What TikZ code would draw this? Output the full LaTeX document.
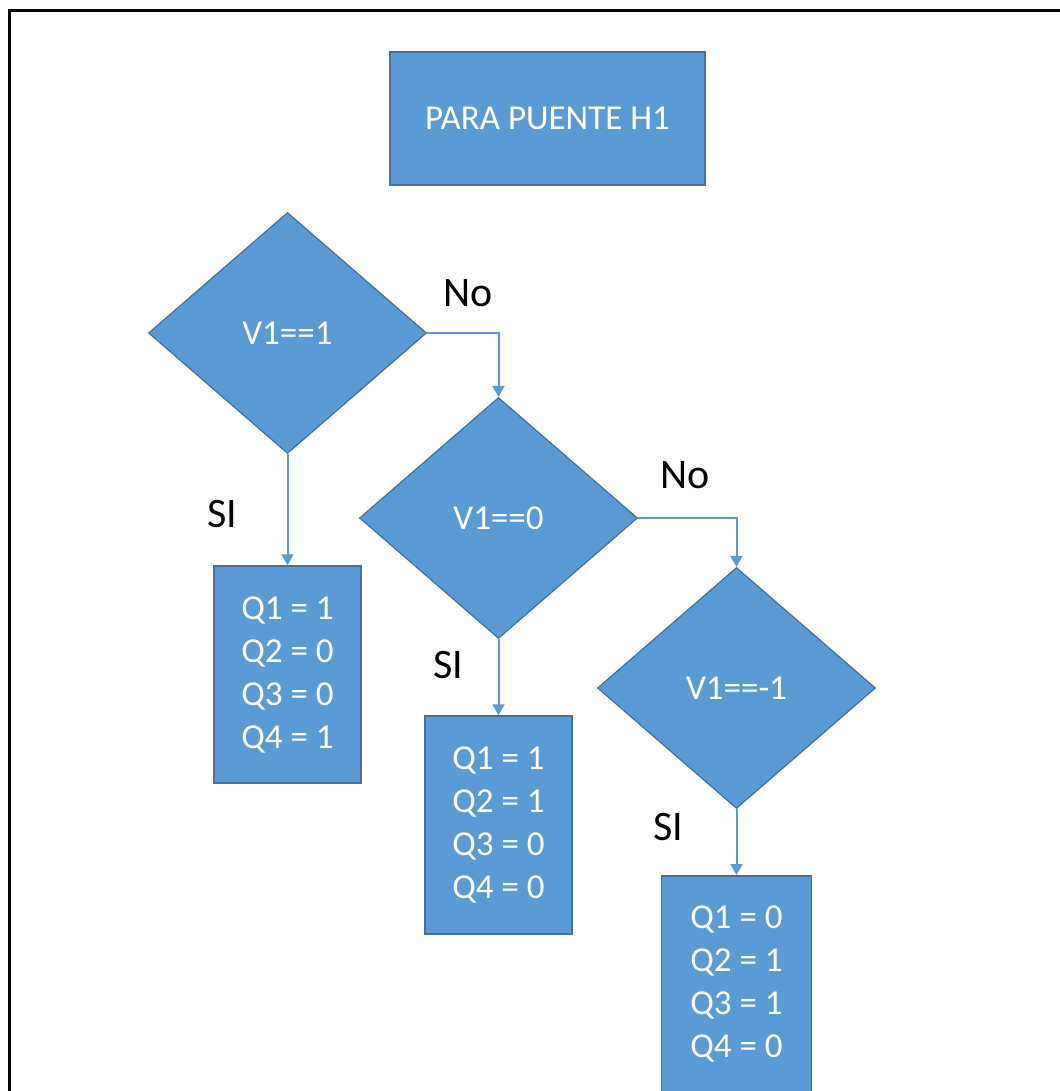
\documentclass[tikz,border=0pt]{standalone}
\usepackage{fontspec}
\setmainfont{Carlito}
\usetikzlibrary{shapes.geometric,arrows.meta}

\definecolor{boxblue}{HTML}{5B9BD5}
\definecolor{edgeblue}{HTML}{41719C}

\tikzset{
  proc/.style={rectangle, draw=edgeblue, fill=boxblue, line width=1.5pt, text=white,
    font=\fontsize{35}{43}\selectfont, align=center, inner sep=0pt},
  cond/.style={diamond, draw=edgeblue, fill=boxblue, line width=1.2pt, text=white,
    font=\fontsize{35}{40}\selectfont, inner sep=0pt, aspect=1.15,
    minimum width=278pt, minimum height=241pt},
  flow/.style={draw=boxblue, line width=2pt, -{Triangle[width=12pt,length=11pt]}},
  lbl/.style={font=\fontsize{42}{46}\selectfont, text=black}
}

\begin{document}
\begin{tikzpicture}[x=1pt, y=-1pt]

\useasboundingbox (0,0) rectangle (1059,1091);

% marco
\draw[line width=3pt] (9.5,10.5) rectangle (1080,1110);

\node[proc, minimum width=315pt, minimum height=133pt] (titulo) at (547.5,118.5) {PARA PUENTE H1};

\node[cond] (d1) at (287.5,333) {V1==1};
\node[cond] (d2) at (498.5,518) {V1==0};
\node[cond] (d3) at (736.5,688) {V1==-1};

\node[proc, minimum width=147pt, minimum height=217pt] (q1) at (287.5,674.5)
  {Q1 = 1\\Q2 = 0\\Q3 = 0\\Q4 = 1};
\node[proc, minimum width=147pt, minimum height=218pt] (q2) at (498.5,825)
  {Q1 = 1\\Q2 = 1\\Q3 = 0\\Q4 = 0};
\node[proc, minimum width=150pt, minimum height=217pt, anchor=north] (q3) at (736.5,875)
  {Q1 = 0\\Q2 = 1\\Q3 = 1\\Q4 = 0};

\draw[flow] (d1.east) -| (d2.north);
\draw[flow] (d2.east) -| (d3.north);
\draw[flow] (d1.south) -- (q1.north);
\draw[flow] (d2.south) -- (q2.north);
\draw[flow] (d3.south) -- (q3.north);

\node[lbl] (no1) at (468,293) {No};
\node[lbl] (no2) at (685,475) {No};
\node[lbl] (si1) at (222,514) {SI};
\node[lbl] (si2) at (448,665) {SI};
\node[lbl] (si3) at (668,827) {SI};

\end{tikzpicture}
\end{document}
